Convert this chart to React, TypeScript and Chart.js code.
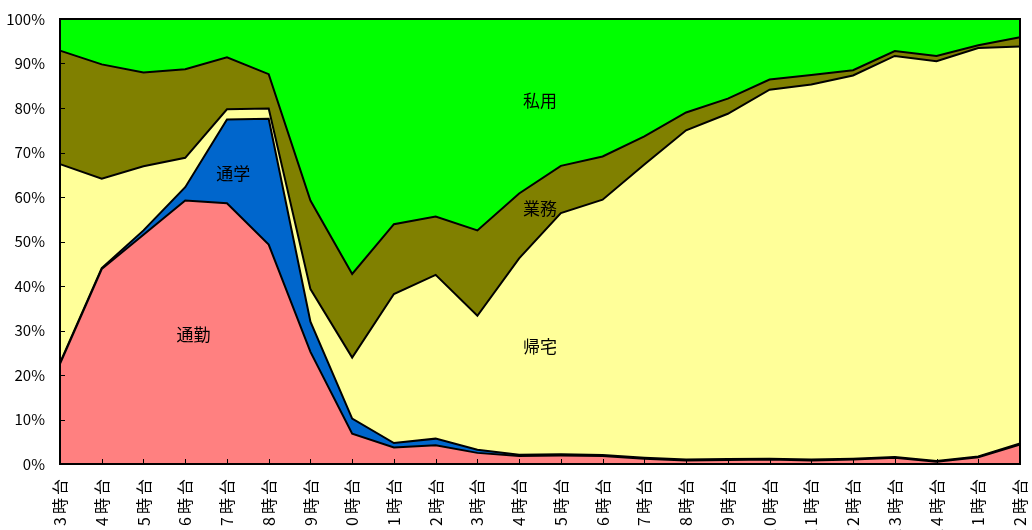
import React, { useEffect, useRef } from "react";
import { Chart, registerables } from "chart.js";

Chart.register(...registerables);

const categories = [
  "3時台", "4時台", "5時台", "6時台", "7時台", "8時台", "9時台", "10時台",
  "11時台", "12時台", "13時台", "14時台", "15時台", "16時台", "17時台", "18時台",
  "19時台", "20時台", "21時台", "22時台", "23時台", "24時台", "1時台", "2時台",
];

const commute = [22.5, 43.8, 51.5, 59.2, 58.6, 49.3, 25.2, 6.8, 3.7, 4.2, 2.5, 1.8, 1.9, 1.8, 1.2, 0.8, 0.9, 1.0, 0.8, 1.0, 1.4, 0.5, 1.5, 4.4];
const school = [0.2, 0.2, 1.0, 3.0, 18.8, 28.3, 6.8, 3.4, 1.0, 1.5, 0.7, 0.3, 0.3, 0.2, 0.2, 0.2, 0.2, 0.2, 0.2, 0.2, 0.2, 0.2, 0.2, 0.2];
const home = [44.7, 20.1, 14.4, 6.6, 2.3, 2.3, 7.3, 13.7, 33.5, 36.8, 30.1, 44.1, 54.2, 57.4, 65.9, 74.0, 77.6, 82.9, 84.3, 86.1, 90.1, 89.8, 91.8, 89.2];
const business = [25.5, 25.7, 21.1, 19.9, 11.7, 7.7, 19.9, 18.8, 15.7, 13.1, 19.2, 14.6, 10.6, 9.7, 6.3, 4.0, 3.4, 2.3, 2.1, 1.2, 1.1, 1.2, 0.6, 2.1];
const privateUse = [7.1, 10.2, 12.0, 11.3, 8.6, 12.4, 40.8, 57.3, 46.1, 44.4, 47.5, 39.2, 33.0, 30.9, 26.4, 21.0, 17.9, 13.6, 12.6, 11.5, 7.2, 8.3, 5.9, 4.1];

const seriesNames = ["通勤", "通学", "帰宅", "業務", "私用"];
const seriesColors = ["#FF8080", "#0066CC", "#FFFF99", "#808000", "#00FF00"];

// in-chart area labels, placed by category index and percent value
const areaLabelText = ["私用", "業務", "帰宅", "通学", "通勤"];
const areaLabelIndex = [11.5, 11.5, 11.5, 4.15, 3.2];
const areaLabelValue = [81.7, 57.5, 26.5, 65.3, 29.2];

const yTicks = [0, 10, 20, 30, 40, 50, 60, 70, 80, 90, 100];

const FONT = "'Noto Sans CJK JP', 'Noto Sans', sans-serif";

const framePlugin = {
  id: "frame",
  beforeDraw(chart: any) {
    const s = chart.scales.x;
    if (s && !s.__spaced) {
      const orig = s.drawLabels.bind(s);
      s.drawLabels = (area: any) => {
        const c = chart.ctx;
        c.save();
        (c as any).letterSpacing = "3px";
        orig(area);
        c.restore();
      };
      s.__spaced = true;
    }
  },
  afterDatasetsDraw(chart: any) {
    const { ctx, chartArea, scales } = chart;
    const xs = scales.x;
    const ys = scales.y;
    ctx.save();
    ctx.strokeStyle = "#000";
    ctx.lineWidth = 1;
    ctx.beginPath();
    for (let i = 0; i < categories.length; i++) {
      const x = Math.round(xs.getPixelForValue(i)) + 0.5;
      ctx.moveTo(x, chartArea.bottom);
      ctx.lineTo(x, chartArea.bottom - 5);
    }
    for (const v of yTicks) {
      const y = Math.round(ys.getPixelForValue(v)) + 0.5;
      ctx.moveTo(chartArea.left, y);
      ctx.lineTo(chartArea.left + 5, y);
    }
    ctx.stroke();
    ctx.lineWidth = 2;
    ctx.strokeRect(chartArea.left, chartArea.top, chartArea.right - chartArea.left, chartArea.bottom - chartArea.top);
    ctx.fillStyle = "#000";
    ctx.font = `17px ${FONT}`;
    ctx.textAlign = "center";
    ctx.textBaseline = "middle";
    for (let i = 0; i < areaLabelText.length; i++) {
      ctx.fillText(areaLabelText[i], xs.getPixelForValue(areaLabelIndex[i]), ys.getPixelForValue(areaLabelValue[i]));
    }
    ctx.restore();
  },
};

export default function App() {
  const ref = useRef<HTMLCanvasElement>(null);
  useEffect(() => {
    if (!ref.current) return;
    const seriesData = [commute, school, home, business, privateUse];
    const chart = new Chart(ref.current, {
      type: "line",
      data: {
        labels: categories,
        datasets: seriesData.map((d, i) => ({
          label: seriesNames[i],
          data: d,
          backgroundColor: seriesColors[i],
          borderColor: "#000",
          borderWidth: 2,
          pointRadius: 0,
          tension: 0,
          fill: i === 0 ? "origin" : "-1",
        })),
      },
      options: {
        responsive: false,
        animation: false,
        layout: { padding: { left: 0, right: 12, top: 19, bottom: 0 } },
        plugins: { legend: { display: false }, tooltip: { enabled: false } },
        scales: {
          x: {
            offset: false,
            grid: { display: false, drawTicks: false },
            border: { display: false },
            afterFit: (s: any) => {
              s.height = 66;
              s.paddingLeft = 0;
              s.paddingRight = 0;
            },
            ticks: {
              autoSkip: false,
              minRotation: 90,
              maxRotation: 90,
              padding: 12,
              color: "#000",
              font: { family: FONT, size: 16 },
            },
          },
          y: {
            stacked: true,
            min: 0,
            max: 100,
            grid: { display: false, drawTicks: false },
            border: { display: false },
            afterFit: (s: any) => {
              s.width = 60;
              s.paddingTop = 0;
              s.paddingBottom = 0;
            },
            ticks: {
              stepSize: 10,
              padding: 15,
              color: "#000",
              font: { family: FONT, size: 15 },
              callback: (v: any) => `${v}%`,
            },
          },
        },
      },
      plugins: [framePlugin],
    });
    return () => chart.destroy();
  }, []);
  return (
    <div style={{ position: "fixed", left: 0, top: 0, width: 1032, height: 530, background: "#fff", overflow: "hidden" }}>
      <canvas ref={ref} width={1032} height={530} style={{ display: "block" }} />
    </div>
  );
}
